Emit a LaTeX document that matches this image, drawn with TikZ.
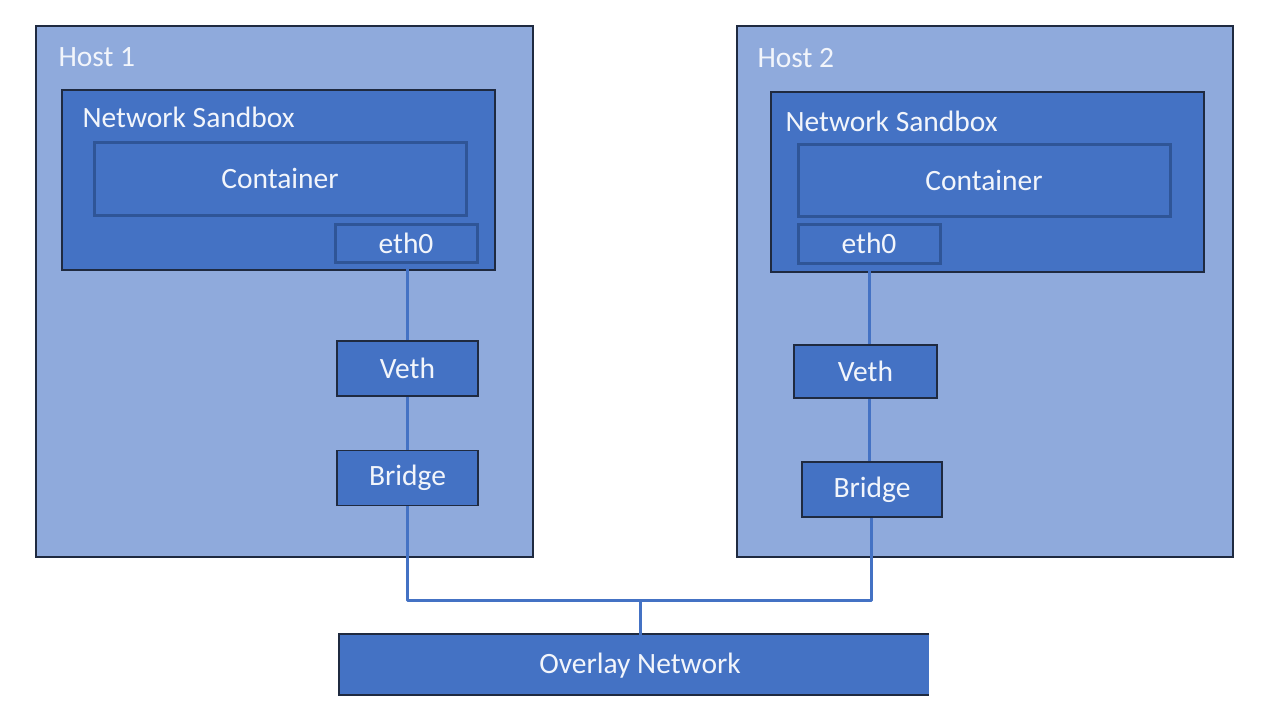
\documentclass[tikz,border=0pt]{standalone}
\usepackage{fontspec}
\setmainfont{Carlito}
\definecolor{hostfill}{HTML}{8FAADC}
\definecolor{boxfill}{HTML}{4472C4}
\definecolor{darkedge}{HTML}{1F2A40}
\definecolor{inneredge}{HTML}{2F5597}
\definecolor{linkblue}{HTML}{4472C4}
\definecolor{txt}{HTML}{F2F5FB}
\begin{document}
\begin{tikzpicture}[x=1pt,y=-1pt,
  lbl/.style={text=txt,font=\fontsize{29.5}{34}\selectfont},
  host/.style={draw=darkedge,line width=1.5pt,fill=hostfill},
  sandbox/.style={draw=darkedge,line width=1.5pt,fill=boxfill},
  inner/.style={draw=inneredge,line width=3pt,fill=boxfill,lbl},
  dev/.style={draw=darkedge,line width=1.5pt,fill=boxfill,lbl},
  link/.style={draw=linkblue,line width=3pt}]
\useasboundingbox (0,0) rectangle (1271,720);
\fill[white] (0,0) rectangle (1271,720);
% hosts
\path[host] (36,26) rectangle (533,557);
\path[host] (737,26) rectangle (1233,557);
\node[lbl,anchor=west] (h1) at (55,57) {Host 1};
\node[lbl,anchor=west] (h2) at (754,58) {Host 2};
% sandboxes
\path[sandbox] (62,90) rectangle (495,270);
\path[sandbox] (771,92) rectangle (1204,272);
\node[lbl,anchor=west] (s1) at (79,117) {Network Sandbox};
\node[lbl,anchor=west] (s2) at (782,121) {Network Sandbox};
% containers
\node[inner,minimum width=372pt,minimum height=73pt] (c1) at (280,178.5) {Container};
\node[inner,minimum width=372pt,minimum height=72pt] (c2) at (984,180) {Container};
\node[inner,minimum width=142pt,minimum height=38pt] (e1) at (406,243) {eth0};
\node[inner,minimum width=142pt,minimum height=39pt] (e2) at (869,243.5) {eth0};
% veth and bridge
\node[dev,minimum width=141pt,minimum height=55pt] (v1) at (407.5,368.5) {Veth};
\node[dev,minimum width=141pt,minimum height=55pt] (b1) at (407.5,478) {Bridge};
\node[dev,minimum width=143pt,minimum height=53pt] (v2) at (865.5,371.5) {Veth};
\node[dev,minimum width=140pt,minimum height=55pt] (b2) at (872,489.5) {Bridge};
% overlay
\fill[boxfill] (339,634) rectangle (929,695);
\draw[darkedge,line width=1.5pt] (929,634) -- (339,634) -- (339,695) -- (929,695);
\node[lbl] (ov) at (640,666) {Overlay Network};
\coordinate (ovtop) at (640,634.7);
\coordinate (j) at (640,600);
% links
\draw[link] (e1.south -| 407,0) -- (v1.north -| 407,0);
\draw[link] (v1.south -| 407,0) -- (b1.north -| 407,0);
\draw[link] (e2.south -| 869,0) -- (v2.north -| 869,0);
\draw[link] (v2.south -| 869,0) -- (b2.north -| 869,0);
\draw[link,line join=round] (b1.south -| 407,0) |- (j) -| (b2.south -| 871,0);
\draw[link] (j) -- (ovtop);
\end{tikzpicture}
\end{document}
